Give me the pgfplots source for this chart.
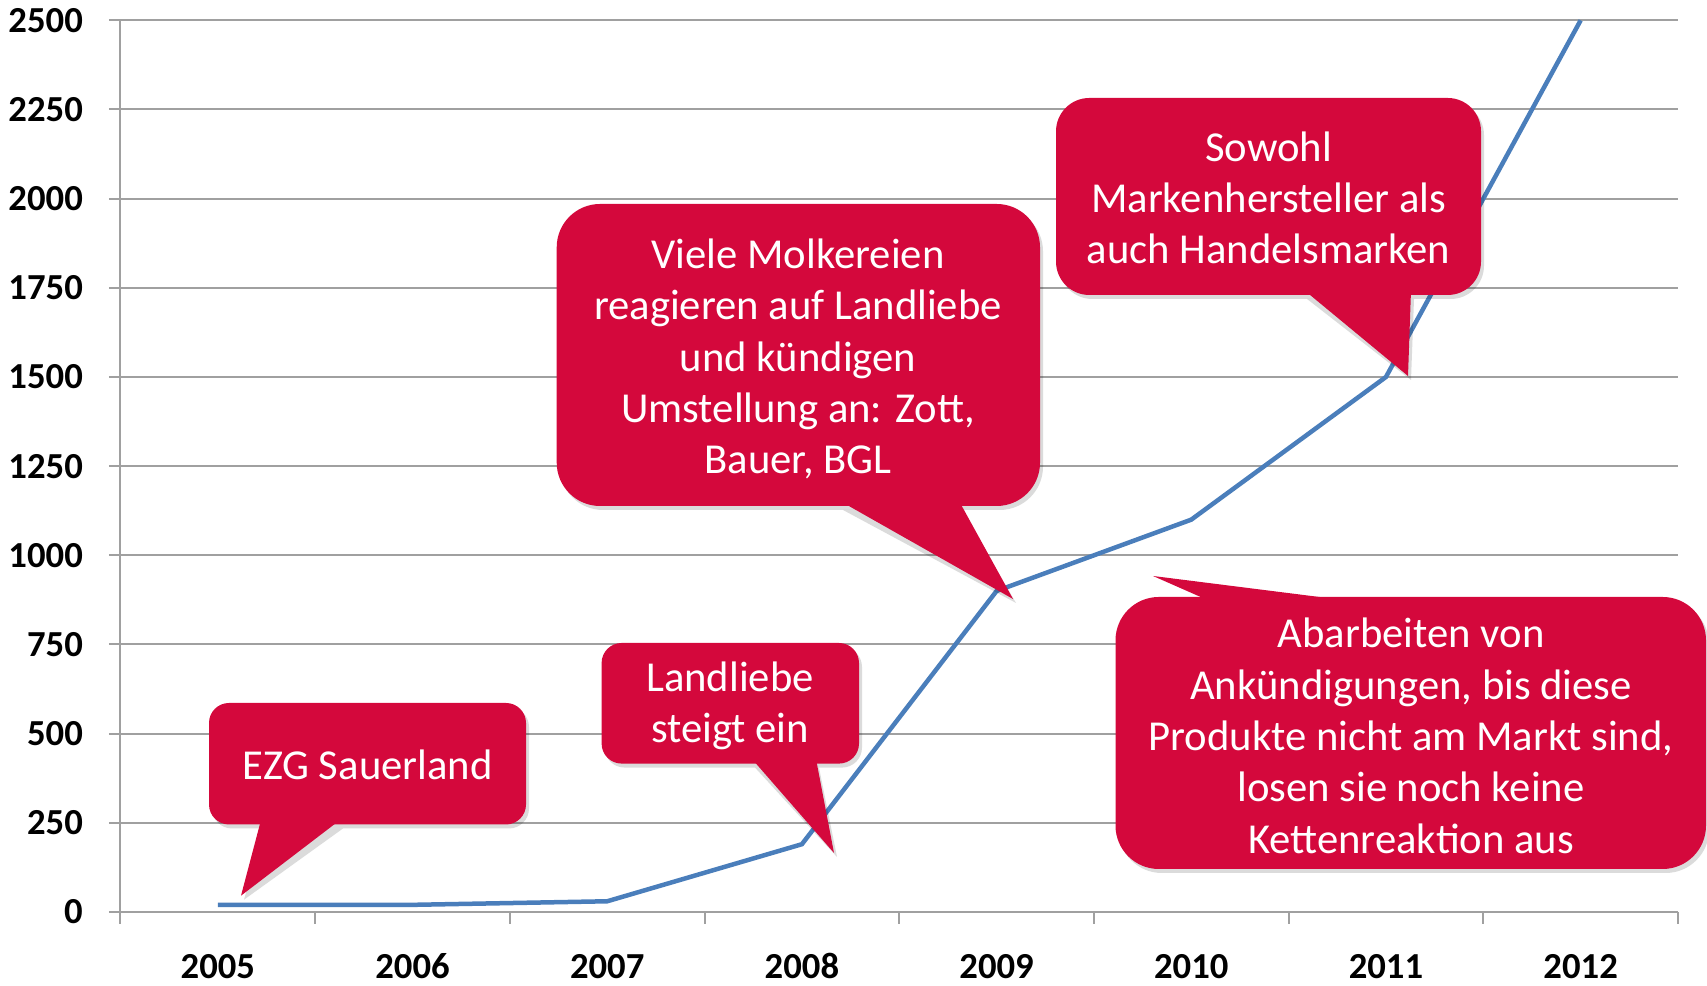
\documentclass[border=0pt]{standalone}
\usepackage{pgfplots}
\pgfplotsset{compat=1.18}
\usepackage{fontspec}
\setmainfont{Carlito}
\definecolor{callred}{RGB}{212,8,60}
\definecolor{lineblue}{RGB}{74,126,187}
\definecolor{gridgray}{RGB}{160,160,160}
\begin{document}
\begin{tikzpicture}
\useasboundingbox (0,0) rectangle (512.1pt,295.8pt);
\begin{axis}[
  at={(36.15pt,22.2pt)}, anchor=south west,
  scale only axis, width=467.25pt, height=267.5pt,
  xmin=-0.5, xmax=7.5, ymin=0, ymax=2500,
  axis x line*=bottom, axis y line*=left,
  axis line style={gridgray, line width=0.6pt, -},
  xtick={-0.5,0.5,...,7.5}, xticklabels={},
  extra x ticks={0,1,2,3,4,5,6,7},
  extra x tick labels={2005,2006,2007,2008,2009,2010,2011,2012},
  extra x tick style={tick style={draw=none}, grid=none,
     xticklabel style={anchor=base, inner sep=0pt, yshift=-16.5pt}},
  ytick={0,250,...,2500},
  yticklabels={0,250,500,750,1000,1250,1500,1750,2000,2250,2500},
  ymajorgrids, grid style={gridgray, line width=0.6pt},
  tick align=outside, major tick length=3.5pt,
  tick style={gridgray, line width=0.6pt},
  tick label style={font=\fontsize{11}{12}\selectfont\bfseries, black},
  yticklabel style={anchor=east, inner sep=0pt, xshift=-7.6pt},
  clip=false,
]
\addplot[lineblue, line width=1.35pt] coordinates {
  (0,20) (1,20) (2,30) (3,190) (4,900) (5,1100) (6,1500) (7,2500)
};
\end{axis}
\begin{scope}[x=0.3pt, y=-0.3pt, yshift=295.8pt]
  \tikzset{cbox/.style={fill=callred}, shad/.style={fill=black, opacity=0.14},
    ctext/.style={text=white, align=center, font=\fontsize{12.8}{15.4}\selectfont, inner sep=0pt}}
  % shadows
  \begin{scope}[shift={(3,4)}]
    \fill[shad, rounded corners=6pt] (209,703) rectangle (526,824.5);
    \fill[shad] (261,824.5) -- (340,824.5) -- (241,895.7) -- cycle;
    \fill[shad, rounded corners=6pt] (601.6,643) rectangle (859,763.6);
    \fill[shad] (752,763.6) -- (816,763.6) -- (834,853) -- cycle;
    \fill[shad, rounded corners=13pt] (556.7,204) rectangle (1040,506);
    \fill[shad] (840,506) -- (959,506) -- (1013,599) -- cycle;
    \fill[shad, rounded corners=10pt] (1056,98) rectangle (1481,295);
    \fill[shad] (1304,295) -- (1411,295) -- (1408,376) -- cycle;
    \fill[shad, rounded corners=13pt] (1115.5,597) rectangle (1706,869);
  \end{scope}
  % callout 1
  \fill[cbox, rounded corners=6pt] (209,703) rectangle (526,824.5);
  \fill[cbox] (261,820) -- (340,820) -- (241,895.7) -- cycle;
  \node[ctext] at (367.5,765) {EZG Sauerland};
  % callout 2
  \fill[cbox, rounded corners=6pt] (601.6,643) rectangle (859,763.6);
  \fill[cbox] (752,759) -- (816,759) -- (834,853) -- cycle;
  \node[ctext] at (730,706) {Landliebe\\steigt ein};
  % callout 3
  \fill[cbox, rounded corners=13pt] (556.7,204) rectangle (1040,506);
  \fill[cbox] (840,501) -- (959,501) -- (1013,599) -- cycle;
  \node[ctext] at (798,359) {Viele Molkereien\\reagieren auf Landliebe\\und kündigen\\Umstellung an: Zott,\\Bauer, BGL};
  % callout 4
  \fill[cbox, rounded corners=10pt] (1056,98) rectangle (1481,295);
  \fill[cbox] (1304,290) -- (1411,290) -- (1408,376) -- cycle;
  \node[ctext] at (1268.5,198) {Sowohl\\Markenhersteller als\\auch Handelsmarken};
  % callout 5
  \fill[cbox, rounded corners=13pt] (1115.5,597) rectangle (1706,869);
  \fill[cbox] (1212,602) -- (1359,602) -- (1153,576) -- cycle;
  \node[ctext] at (1411,736) {Abarbeiten von\\Ankündigungen, bis diese\\Produkte nicht am Markt sind,\\losen sie noch keine\\Kettenreaktion aus};
\end{scope}
\end{tikzpicture}
\end{document}
